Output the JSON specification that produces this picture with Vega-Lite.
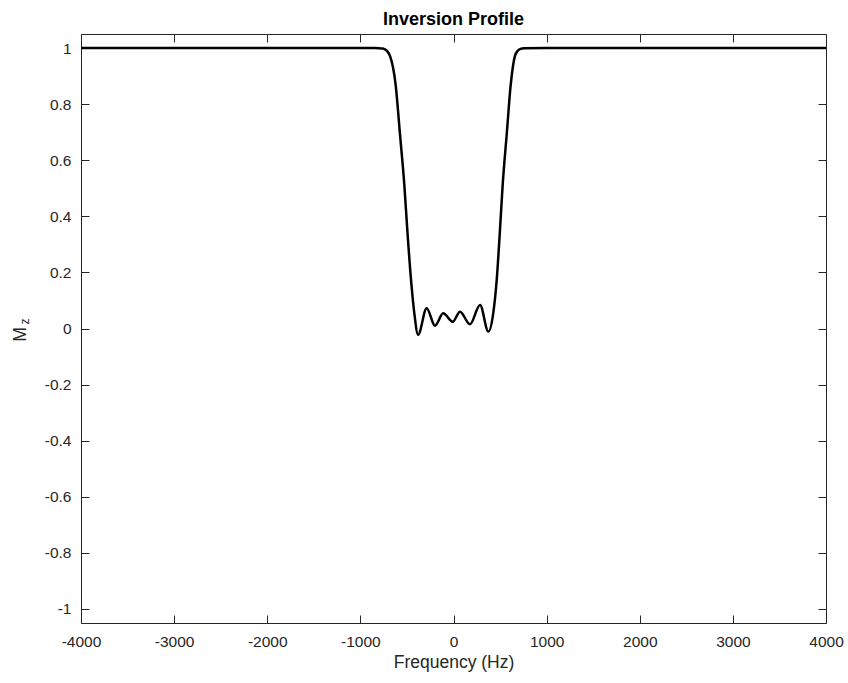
{
  "$schema": "https://vega.github.io/schema/vega-lite/v6.json",
  "width": 745,
  "height": 589,
  "autosize": {"type": "none"},
  "padding": {"left": 81, "top": 34, "right": 22, "bottom": 60},
  "background": "white",
  "title": {"text": "Inversion Profile", "fontSize": 18, "fontWeight": "bold", "font": "Liberation Sans", "color": "#000000", "anchor": "middle", "baseline": "alphabetic", "offset": -9, "frame": "group"},
  "config": {
    "view": {"stroke": null},
    "font": "Liberation Sans",
    "axis": {
      "grid": false,
      "domainColor": "#262626",
      "domainWidth": 1,
      "tickColor": "#262626",
      "tickWidth": 1,
      "tickSize": -8,
      "labelColor": "#262626",
      "labelFont": "Liberation Sans",
      "labelFontSize": 15.5,
      "labelFlush": false,
      "labelExpr": "'' + datum.value",
      "titleColor": "#262626",
      "titleFont": "Liberation Sans",
      "titleFontWeight": "normal",
      "titleFontSize": 17.5
    }
  },
  "data": {"values": [
    {"f": -4000, "mz": 1.0},
    {"f": -2000, "mz": 1.0},
    {"f": -1000, "mz": 1.0},
    {"f": -800, "mz": 0.9995},
    {"f": -760, "mz": 0.998},
    {"f": -736, "mz": 0.995},
    {"f": -710, "mz": 0.988},
    {"f": -682, "mz": 0.972},
    {"f": -621, "mz": 0.868},
    {"f": -574, "mz": 0.69},
    {"f": -528, "mz": 0.512},
    {"f": -496, "mz": 0.351},
    {"f": -456, "mz": 0.173},
    {"f": -421, "mz": 0.055},
    {"f": -380, "mz": -0.022},
    {"f": -288, "mz": 0.072},
    {"f": -199, "mz": 0.01},
    {"f": -110, "mz": 0.054},
    {"f": -9, "mz": 0.024},
    {"f": 70, "mz": 0.06},
    {"f": 177, "mz": 0.015},
    {"f": 285, "mz": 0.084},
    {"f": 374, "mz": -0.011},
    {"f": 427, "mz": 0.055},
    {"f": 464, "mz": 0.173},
    {"f": 499, "mz": 0.351},
    {"f": 528, "mz": 0.512},
    {"f": 571, "mz": 0.69},
    {"f": 614, "mz": 0.868},
    {"f": 660, "mz": 0.972},
    {"f": 690, "mz": 0.99},
    {"f": 714, "mz": 0.996},
    {"f": 760, "mz": 0.999},
    {"f": 1000, "mz": 1.0},
    {"f": 2000, "mz": 1.0},
    {"f": 4000, "mz": 1.0}
  ]},
  "layer": [
    {
      "mark": {"type": "line", "color": "#000000", "strokeWidth": 2.5, "interpolate": "monotone"},
      "encoding": {
        "x": {"field": "f", "type": "quantitative", "scale": {"domain": [-4000, 4000], "nice": false, "zero": false},
              "axis": {"orient": "bottom", "values": [-4000, -3000, -2000, -1000, 0, 1000, 2000, 3000, 4000], "labelPadding": 19, "title": "Frequency (Hz)", "titlePadding": 4}},
        "y": {"field": "mz", "type": "quantitative", "scale": {"domain": [-1.05, 1.05], "nice": false, "zero": false},
              "axis": {"orient": "left", "values": [-1, -0.8, -0.6, -0.4, -0.2, 0, 0.2, 0.4, 0.6, 0.8, 1], "labelPadding": 18, "title": "M", "titleX": -61, "titleY": 300, "titleAngle": -90, "titleAlign": "center", "titleBaseline": "middle"}}
      }
    },
    {
      "mark": {"type": "line", "strokeOpacity": 0, "interpolate": "monotone"},
      "encoding": {
        "x": {"field": "f", "type": "quantitative", "scale": {"domain": [-4000, 4000], "nice": false, "zero": false},
              "axis": {"orient": "top", "values": [-4000, -3000, -2000, -1000, 0, 1000, 2000, 3000, 4000], "labels": false, "title": null}},
        "y": {"field": "mz", "type": "quantitative", "scale": {"domain": [-1.05, 1.05], "nice": false, "zero": false},
              "axis": {"orient": "right", "values": [-1, -0.8, -0.6, -0.4, -0.2, 0, 0.2, 0.4, 0.6, 0.8, 1], "labels": false, "title": "z", "titleFontSize": 12, "titleX": -802, "titleY": 287, "titleAngle": -90, "titleAlign": "center", "titleBaseline": "middle"}}
      }
    }
  ],
  "resolve": {"axis": {"x": "independent", "y": "independent"}}
}
